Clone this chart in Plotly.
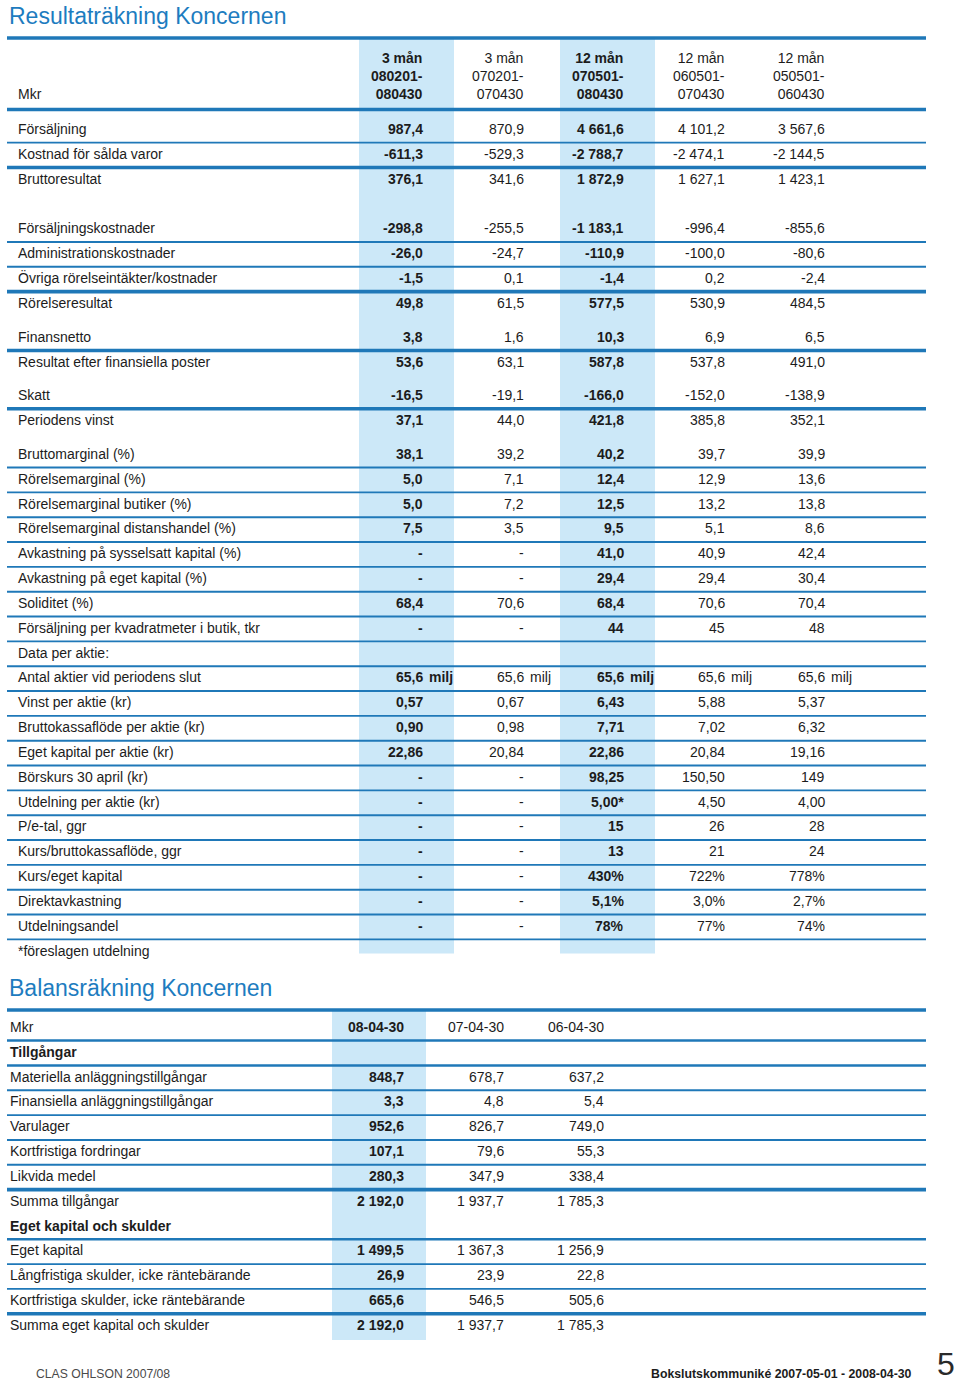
import plotly.graph_objects as go

# ---------------- DATA ----------------
income_title = "Resultaträkning Koncernen"
income_unit = "Mkr"
period_len = ["3 mån", "3 mån", "12 mån", "12 mån", "12 mån"]
period_start = ["080201-", "070201-", "070501-", "060501-", "050501-"]
period_end = ["080430", "070430", "080430", "070430", "060430"]
bold_cols_income = [0, 2]

income_rows = [
    "Försäljning", "Kostnad för sålda varor", "Bruttoresultat",
    "Försäljningskostnader", "Administrationskostnader",
    "Övriga rörelseintäkter/kostnader", "Rörelseresultat",
    "Finansnetto", "Resultat efter finansiella poster",
    "Skatt", "Periodens vinst",
    "Bruttomarginal (%)", "Rörelsemarginal (%)", "Rörelsemarginal butiker (%)",
    "Rörelsemarginal distanshandel (%)", "Avkastning på sysselsatt kapital (%)",
    "Avkastning på eget kapital (%)", "Soliditet (%)",
    "Försäljning per kvadratmeter i butik, tkr", "Data per aktie:",
    "Antal aktier vid periodens slut", "Vinst per aktie (kr)",
    "Bruttokassaflöde per aktie (kr)", "Eget kapital per aktie (kr)",
    "Börskurs 30 april (kr)", "Utdelning per aktie (kr)", "P/e-tal, ggr",
    "Kurs/bruttokassaflöde, ggr", "Kurs/eget kapital", "Direktavkastning",
    "Utdelningsandel", "*föreslagen utdelning",
]

q_2008 = ["987,4", "-611,3", "376,1", "-298,8", "-26,0", "-1,5", "49,8", "3,8", "53,6",
          "-16,5", "37,1", "38,1", "5,0", "5,0", "7,5", "-", "-", "68,4", "-", "",
          "65,6 milj", "0,57", "0,90", "22,86", "-", "-", "-", "-", "-", "-", "-", ""]
q_2007 = ["870,9", "-529,3", "341,6", "-255,5", "-24,7", "0,1", "61,5", "1,6", "63,1",
          "-19,1", "44,0", "39,2", "7,1", "7,2", "3,5", "-", "-", "70,6", "-", "",
          "65,6 milj", "0,67", "0,98", "20,84", "-", "-", "-", "-", "-", "-", "-", ""]
y_0708 = ["4 661,6", "-2 788,7", "1 872,9", "-1 183,1", "-110,9", "-1,4", "577,5", "10,3",
          "587,8", "-166,0", "421,8", "40,2", "12,4", "12,5", "9,5", "41,0", "29,4", "68,4",
          "44", "", "65,6 milj", "6,43", "7,71", "22,86", "98,25", "5,00*", "15", "13",
          "430%", "5,1%", "78%", ""]
y_0607 = ["4 101,2", "-2 474,1", "1 627,1", "-996,4", "-100,0", "0,2", "530,9", "6,9",
          "537,8", "-152,0", "385,8", "39,7", "12,9", "13,2", "5,1", "40,9", "29,4", "70,6",
          "45", "", "65,6 milj", "5,88", "7,02", "20,84", "150,50", "4,50", "26", "21",
          "722%", "3,0%", "77%", ""]
y_0506 = ["3 567,6", "-2 144,5", "1 423,1", "-855,6", "-80,6", "-2,4", "484,5", "6,5",
          "491,0", "-138,9", "352,1", "39,9", "13,6", "13,8", "8,6", "42,4", "30,4", "70,4",
          "48", "", "65,6 milj", "5,37", "6,32", "19,16", "149", "4,00", "28", "24",
          "778%", "2,7%", "74%", ""]
income_cols = [q_2008, q_2007, y_0708, y_0607, y_0506]

balance_title = "Balansräkning Koncernen"
balance_dates = ["08-04-30", "07-04-30", "06-04-30"]
balance_rows = [
    "Mkr", "Tillgångar", "Materiella anläggningstillgångar",
    "Finansiella anläggningstillgångar", "Varulager", "Kortfristiga fordringar",
    "Likvida medel", "Summa tillgångar", "Eget kapital och skulder", "Eget kapital",
    "Långfristiga skulder, icke räntebärande", "Kortfristiga skulder, icke räntebärande",
    "Summa eget kapital och skulder",
]
balance_bold_rows = ["Tillgångar", "Eget kapital och skulder"]
bal_2008 = ["", "848,7", "3,3", "952,6", "107,1", "280,3", "2 192,0", "", "1 499,5", "26,9", "665,6", "2 192,0"]
bal_2007 = ["", "678,7", "4,8", "826,7", "79,6", "347,9", "1 937,7", "", "1 367,3", "23,9", "546,5", "1 937,7"]
bal_2006 = ["", "637,2", "5,4", "749,0", "55,3", "338,4", "1 785,3", "", "1 256,9", "22,8", "505,6", "1 785,3"]
balance_cols = [bal_2008, bal_2007, bal_2006]

footer_left = "CLAS OHLSON 2007/08"
footer_right = "Bokslutskommuniké 2007-05-01 - 2008-04-30"
page_no = "5"

# ---------------- STYLE / LAYOUT ----------------
W, H = 960, 1385
FONT = "Liberation Sans"
LINE = "#1f78b8"
BAND = "#cce8f8"
TITLE_BLUE = "#1d7cbf"
TXT = "#1c1c1c"
FS = 14
THIN, MED, THICK = 1.9, 2.5, 3.6
RULE_X0, RULE_X1 = 7, 926
PITCH = 24.83

annotations = []
shapes = []


def txt(x, y, s, anchor="left", size=FS, color=TXT, bold=False, family=FONT, align=None):
    if bold and s:
        s = "<br>".join("<b>%s</b>" % p for p in s.split("<br>"))
    annotations.append(dict(
        x=x, y=y, xref="x", yref="y", text=s, showarrow=False,
        xanchor=anchor, yanchor="middle", align=align or anchor,
        font=dict(family=family, size=size, color=color), borderpad=0,
    ))


def hline(y, w):
    shapes.append(dict(type="line", xref="x", yref="y", x0=RULE_X0, x1=RULE_X1,
                       y0=y, y1=y, line=dict(color=LINE, width=w), layer="above"))


def band(x0, x1, y0, y1):
    shapes.append(dict(type="rect", xref="x", yref="y", x0=x0, x1=x1, y0=y0, y1=y1,
                       fillcolor=BAND, line=dict(width=0), layer="below"))


def value_cell(x_right, y, s, bold):
    if s.endswith(" milj"):
        num = s[:-5]
        txt(x_right, y, num, anchor="right", bold=bold)
        txt(x_right + 4, y, "milj", anchor="left", bold=bold)
    else:
        txt(x_right, y, s, anchor="right", bold=bold)


# ----- income statement -----
inc_label_x = 17
inc_col_right = [424, 524.5, 625, 725.5, 826]
extra_gap = {3: PITCH, 7: 9.2, 9: 8.6, 11: 9.2}
row_y = []
y = 129.0
for i in range(len(income_rows)):
    if i > 0:
        y += PITCH + extra_gap.get(i, 0)
    row_y.append(y)

txt(8, 16, income_title, size=23, color=TITLE_BLUE)
top_rule = 38
header_rule = 109.5
for c in bold_cols_income:
    r = inc_col_right[c]
    band(r - 65, r + 30, top_rule, row_y[-1] + 3)
hline(top_rule, THICK)
hline(header_rule, THICK)

txt(inc_label_x, 94, income_unit)
for c in range(5):
    head = "<br>".join([period_len[c], period_start[c], period_end[c]])
    txt(inc_col_right[c], 76, head, anchor="right", bold=c in bold_cols_income)

line_after = {0: THIN, 1: THICK, 3: THIN, 4: THIN, 5: THICK, 7: THICK, 9: THICK}
for i in range(11, 31):
    line_after[i] = THIN
for i, w in line_after.items():
    hline((row_y[i] + row_y[i + 1]) / 2 + 1.2, w)

for i, lab in enumerate(income_rows):
    txt(inc_label_x, row_y[i], lab)
    for c in range(5):
        value_cell(inc_col_right[c], row_y[i], income_cols[c][i], c in bold_cols_income)

# ----- balance sheet -----
bal_label_x = 9
bal_col_right = [405, 505, 605]
bal_rule = 1010
bal_y = [1027 + PITCH * i for i in range(len(balance_rows))]
txt(8, 988, balance_title, size=23, color=TITLE_BLUE)
band(bal_col_right[0] - 73, bal_col_right[0] + 21, bal_rule, 1340)
hline(bal_rule, THICK)
bal_line_after = {0: MED, 1: MED, 2: THIN, 3: THIN, 4: THIN, 5: THIN, 6: THICK,
                  8: MED, 9: THIN, 10: THIN, 11: THICK}
for i, w in bal_line_after.items():
    hline((bal_y[i] + bal_y[i + 1]) / 2 + 1.2, w)

for i, lab in enumerate(balance_rows):
    txt(bal_label_x, bal_y[i], lab, bold=lab in balance_bold_rows)
for c in range(3):
    txt(bal_col_right[c], bal_y[0], balance_dates[c], anchor="right", bold=(c == 0))
    for j, v in enumerate(balance_cols[c]):
        value_cell(bal_col_right[c], bal_y[j + 1], v, c == 0)

# ----- footer -----
txt(35, 1374, footer_left, size=12.2, color="#4a4a4a")
txt(913, 1374, footer_right, anchor="right", size=12.3, color="#1c1c1c", bold=True)
txt(956, 1364, page_no, anchor="right", size=32, color="#2a2a2a")

fig = go.Figure()
fig.add_trace(go.Scatter(x=[0, W], y=[0, H], mode="markers",
                         marker=dict(size=1, opacity=0), hoverinfo="skip", showlegend=False))
fig.update_layout(
    width=W, height=H, margin=dict(l=0, r=0, t=0, b=0),
    paper_bgcolor="white", plot_bgcolor="white",
    xaxis=dict(range=[0, W], visible=False, fixedrange=True),
    yaxis=dict(range=[H, 0], visible=False, fixedrange=True),
    annotations=annotations, shapes=shapes, showlegend=False,
)
fig.write_html(
    "out.html",
    config={"displayModeBar": False},
    post_script="document.body.style.margin='0';document.body.style.padding='0';"
                "document.documentElement.style.overflow='hidden';",
)
